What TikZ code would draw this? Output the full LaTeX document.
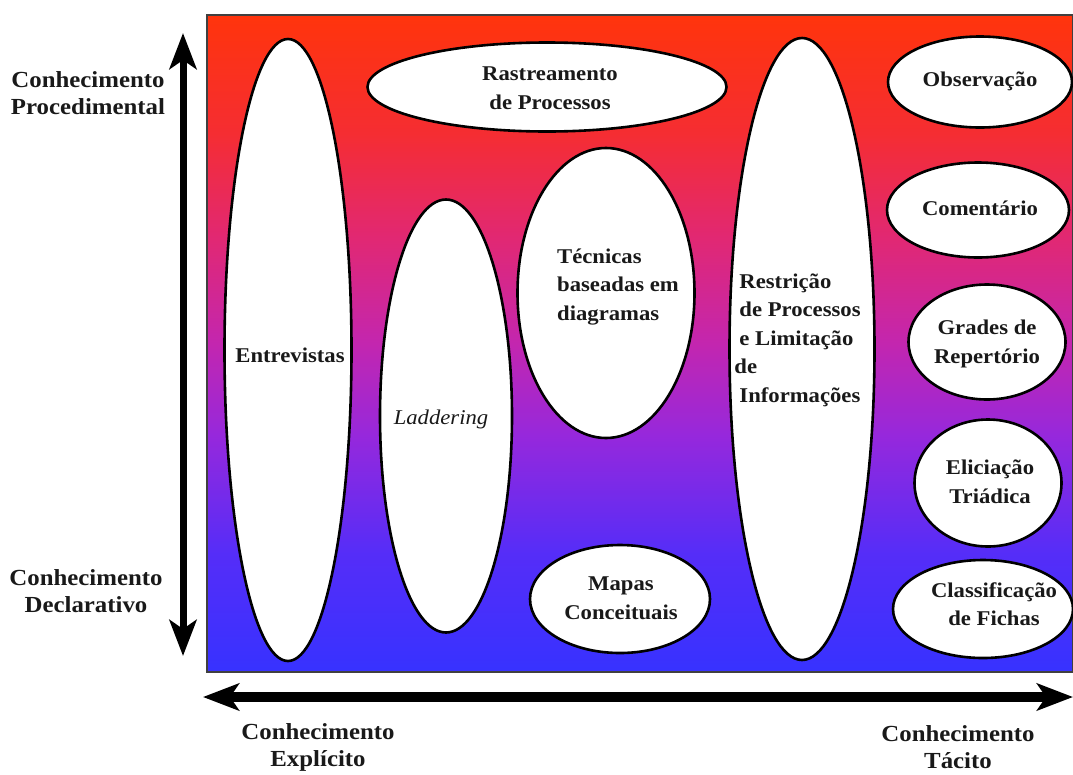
\documentclass[tikz,border=0pt]{standalone}
\usepackage{fontspec}
\setmainfont{Liberation Serif}[FakeStretch=1.08]
\usetikzlibrary{shapes.geometric,arrows.meta}
\definecolor{TopRed}{RGB}{255,52,12}
\definecolor{HighRed}{RGB}{245,45,50}
\definecolor{HighPink}{RGB}{225,40,115}
\definecolor{MidMagenta}{RGB}{195,38,175}
\definecolor{MidViolet}{RGB}{150,40,220}
\definecolor{LowViolet}{RGB}{85,45,248}
\definecolor{LowBlue}{RGB}{55,50,255}
\pgfdeclareverticalshading{GroundShade}{100bp}{color(0bp)=(LowBlue);
  color(25bp)=(LowBlue); color(34bp)=(LowViolet); color(43bp)=(MidViolet);
  color(50bp)=(MidMagenta); color(58bp)=(HighPink); color(66bp)=(HighRed);
  color(75bp)=(TopRed); color(100bp)=(TopRed)}
\tikzset{
  EllipseStyle/.style = { ellipse, draw = black, line width = 2.6pt,
                          fill = white, inner sep = 0pt },
  TextStyle/.style = { align = center, text = black!90,
                       font = \fontsize{21}{28.5}\selectfont\bfseries },
  AxisLabelStyle/.style = { align = center, text = black!90,
                            font = \fontsize{23}{27}\selectfont\bfseries },
  AxisStyle/.style = { line width = #1,
                       {Stealth[length=36pt,width=27pt,inset=9pt]}-{Stealth[length=36pt,width=27pt,inset=9pt]} } }

\begin{document}
\begin{tikzpicture}[x=1pt,y=-1pt]
  \useasboundingbox (0,0) rectangle (1073,774);
  % ground
  \shade[shading=GroundShade] (207,15) rectangle (1073,672);
  \draw[black!75, line width=1.2pt] (207,15) rectangle (1073,672);
  % axes
  \coordinate (ProcTop) at (183,33);
  \coordinate (DeclBot) at (183,656);
  \coordinate (ExplEnd) at (203,697);
  \coordinate (TacEnd) at (1073,697);
  \draw[AxisStyle=7pt] (ProcTop) -- (DeclBot);
  \draw[AxisStyle=10pt] (ExplEnd) -- (TacEnd);
  \node[AxisLabelStyle](Proc) at (88,93) {Conhecimento\\Procedimental};
  \node[AxisLabelStyle](Decl) at (86,591) {Conhecimento\\Declarativo};
  \node[AxisLabelStyle](Expl) at (318,747) {Conhecimento\\Explícito};
  \node[AxisLabelStyle](Tac) at (958,747) {Conhecimento\\Tácito};
  % techniques
  \node[EllipseStyle, minimum width=127pt, minimum height=622pt](Entr) at (288,350) {};
  \node[EllipseStyle, minimum width=359pt, minimum height=89pt](Rast) at (547,87) {};
  \node[EllipseStyle, minimum width=132pt, minimum height=433pt](Ladd) at (446,416) {};
  \node[EllipseStyle, minimum width=177pt, minimum height=290pt](Tecn) at (606,293) {};
  \node[EllipseStyle, minimum width=180pt, minimum height=108pt](Mapa) at (620,599) {};
  \node[EllipseStyle, minimum width=145pt, minimum height=622pt](Rest) at (802,349) {};
  \node[EllipseStyle, minimum width=184pt, minimum height=91pt](Obse) at (980,82) {};
  \node[EllipseStyle, minimum width=182pt, minimum height=95pt](Come) at (978,210) {};
  \node[EllipseStyle, minimum width=157pt, minimum height=115pt](Grad) at (987,342) {};
  \node[EllipseStyle, minimum width=147pt, minimum height=127pt](Elic) at (988,483) {};
  \node[EllipseStyle, minimum width=180pt, minimum height=98pt](Clas) at (983,609) {};
  % texts
  \node[TextStyle](EntrT) at (290,355) {Entrevistas};
  \node[TextStyle](RastT) at (550,88) {Rastreamento\\de Processos};
  \node[TextStyle, font=\fontsize{21}{26}\selectfont\itshape](LaddT) at (441,419) {Laddering};
  \node[TextStyle, align=left](TecnT) at (618,287) {Técnicas\\baseadas em\\diagramas};
  \node[TextStyle](MapaT) at (621,598) {Mapas\\Conceituais};
  \node[TextStyle, align=left](RestT) at (800,340)
    {Restrição\\de Processos\\e Limitação\\\hspace*{-5pt}de\\Informações};
  \node[TextStyle](ObseT) at (980,81) {Observação};
  \node[TextStyle](ComeT) at (980,208) {Comentário};
  \node[TextStyle](GradT) at (987,344) {Grades de\\Repertório};
  \node[TextStyle](ElicT) at (990,482) {Eliciação\\Triádica};
  \node[TextStyle](ClasT) at (994,604) {Classificação\\de Fichas};
\end{tikzpicture}
\end{document}
